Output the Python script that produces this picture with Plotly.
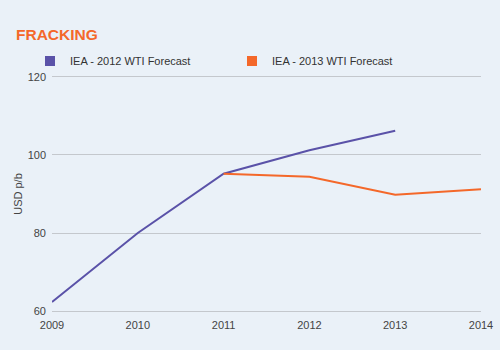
import plotly.graph_objects as go

years = [2009, 2010, 2011, 2012, 2013, 2014]
forecast_2012 = [62.3, 80.0, 95.2, 101.2, 106.2, None]
forecast_2013 = [None, None, 95.2, 94.4, 89.8, 91.2]
series_names = ["IEA - 2012 WTI Forecast", "IEA - 2013 WTI Forecast"]
colors = ["#5a52a8", "#f4682a"]
y_ticks = [60, 80, 100, 120]

fig = go.Figure()
for name, vals, col in zip(series_names, [forecast_2012, forecast_2013], colors):
    fig.add_trace(go.Scatter(x=years, y=vals, mode="lines", name=name,
                             line=dict(color=col, width=2), showlegend=False,
                             connectgaps=False))
    fig.add_trace(go.Scatter(x=[None], y=[None], mode="markers", name=name,
                             marker=dict(symbol="square", size=10, color=col)))

fig.update_layout(
    width=500, height=350,
    paper_bgcolor="#eaf1f8", plot_bgcolor="#eaf1f8",
    margin=dict(l=52, r=19, t=75, b=37, autoexpand=False),
    font=dict(family="Liberation Sans, Arial, sans-serif", size=11, color="#444"),
    title=dict(text="<b>FRACKING</b>", x=0.032, xanchor="left", y=0.9, yanchor="middle",
               font=dict(size=15.5, color="#f4682a", family="Liberation Sans, Arial, sans-serif")),
    legend=dict(orientation="h", xref="container", x=0.06, xanchor="left",
                yref="container", y=1 - 61 / 350, yanchor="middle",
                entrywidth=157, entrywidthmode="pixels", itemwidth=30,
                font=dict(size=11, color="#333"),
                bgcolor="rgba(0,0,0,0)"),
    xaxis=dict(range=[2009, 2014], tickvals=years, ticktext=[str(y) for y in years],
               showgrid=False, zeroline=False, showline=False, ticks="",
               ticklabelstandoff=4,
               tickfont=dict(size=11, color="#444")),
    yaxis=dict(range=[59.5, 120.5], tickvals=y_ticks, showgrid=True, gridcolor="#c4c8cd",
               gridwidth=1, zeroline=False, showline=False, ticks="",
               ticklabelstandoff=5,
               title=dict(text="USD p/b", font=dict(size=11, color="#444"), standoff=2),
               tickfont=dict(size=11, color="#444")),
)

fig.write_html("out.html")
